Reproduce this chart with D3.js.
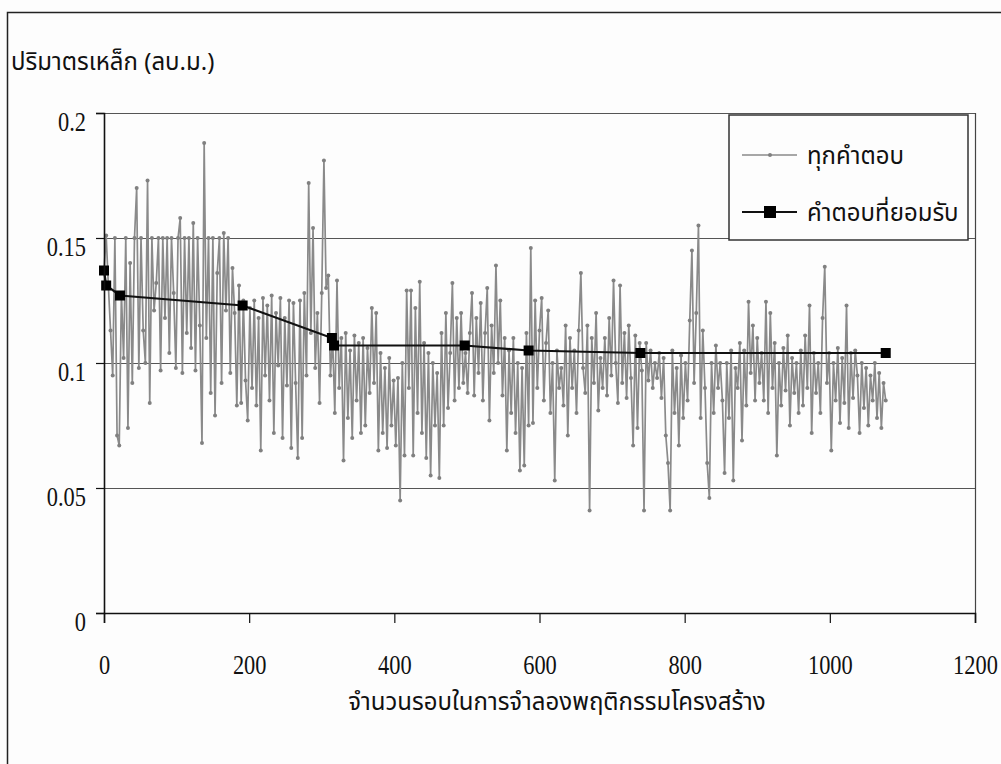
<!DOCTYPE html>
<html>
<head>
<meta charset="utf-8">
<script src="https://cdn.jsdelivr.net/npm/d3@7"></script>
<style>
  body { margin: 0; background: #fdfdfd; }
  svg { display: block; }
  .thai { font-family: "Noto Sans Thai", "Noto Serif Thai", "Loma", "Garuda", "Norasi", sans-serif; }
  .num { font-family: "Liberation Serif", "DejaVu Serif", serif; }
</style>
</head>
<body>
<div id="chart"></div>
<script>
// all solutions (ทุกคำตอบ), one sample every 3 iterations
var sampleStep = 3;
var allValues = [
  0.137, 0.151, 0.131, 0.113, 0.095, 0.150, 0.071, 0.067, 0.128, 0.102,
  0.150, 0.074, 0.140, 0.092, 0.150, 0.170, 0.098, 0.150, 0.113, 0.100,
  0.173, 0.084, 0.150, 0.121, 0.132, 0.150, 0.097, 0.150, 0.118, 0.150,
  0.104, 0.150, 0.128, 0.098, 0.150, 0.158, 0.096, 0.150, 0.112, 0.150,
  0.106, 0.156, 0.097, 0.150, 0.115, 0.068, 0.188, 0.110, 0.150, 0.088,
  0.150, 0.079, 0.136, 0.150, 0.092, 0.152, 0.121, 0.150, 0.096, 0.138,
  0.120, 0.083, 0.131, 0.084, 0.125, 0.093, 0.077, 0.122, 0.090, 0.125,
  0.083, 0.118, 0.065, 0.126, 0.095, 0.123, 0.085, 0.127, 0.072, 0.120,
  0.099, 0.126, 0.070, 0.118, 0.091, 0.125, 0.066, 0.124, 0.092, 0.062,
  0.125, 0.070, 0.128, 0.095, 0.172, 0.112, 0.154, 0.098, 0.120, 0.084,
  0.128, 0.181, 0.130, 0.135, 0.095, 0.110, 0.080, 0.133, 0.090, 0.110,
  0.061, 0.112, 0.078, 0.105, 0.070, 0.111, 0.085, 0.108, 0.072, 0.110,
  0.075, 0.106, 0.088, 0.122, 0.092, 0.120, 0.065, 0.104, 0.072, 0.098,
  0.066, 0.102, 0.075, 0.093, 0.067, 0.094, 0.045, 0.100, 0.063, 0.129,
  0.090, 0.129, 0.063, 0.122, 0.080, 0.1325, 0.072, 0.108, 0.062, 0.104,
  0.055, 0.100, 0.075, 0.096, 0.054, 0.112, 0.075, 0.120, 0.082, 0.104,
  0.132, 0.085, 0.118, 0.090, 0.120, 0.092, 0.104, 0.088, 0.112, 0.128,
  0.087, 0.118, 0.096, 0.124, 0.085, 0.112, 0.130, 0.077, 0.115, 0.096,
  0.139, 0.100, 0.125, 0.087, 0.110, 0.065, 0.105, 0.080, 0.110, 0.072,
  0.100, 0.057, 0.098, 0.059, 0.112, 0.075, 0.146, 0.076, 0.125, 0.090,
  0.113, 0.126, 0.085, 0.108, 0.121, 0.080, 0.100, 0.053, 0.105, 0.090,
  0.098, 0.083, 0.115, 0.071, 0.110, 0.090, 0.105, 0.080, 0.113, 0.136,
  0.098, 0.088, 0.115, 0.041, 0.110, 0.092, 0.120, 0.081, 0.102, 0.090,
  0.110, 0.087, 0.118, 0.095, 0.133, 0.100, 0.084, 0.131, 0.092, 0.112,
  0.086, 0.115, 0.094, 0.067, 0.111, 0.074, 0.108, 0.097, 0.041, 0.108,
  0.093, 0.105, 0.090, 0.100, 0.094, 0.104, 0.086, 0.102, 0.071, 0.060,
  0.041, 0.105, 0.080, 0.098, 0.067, 0.103, 0.078, 0.100, 0.085, 0.117,
  0.145, 0.092, 0.120, 0.155, 0.078, 0.113, 0.090, 0.060, 0.046, 0.100,
  0.080, 0.107, 0.090, 0.100, 0.085, 0.056, 0.100, 0.078, 0.105, 0.053,
  0.098, 0.090, 0.108, 0.069, 0.105, 0.083, 0.1245, 0.096, 0.115, 0.085,
  0.110, 0.092, 0.104, 0.085, 0.1245, 0.080, 0.120, 0.090, 0.108, 0.063,
  0.100, 0.083, 0.106, 0.089, 0.111, 0.075, 0.102, 0.088, 0.100, 0.080,
  0.105, 0.083, 0.111, 0.090, 0.123, 0.072, 0.104, 0.088, 0.100, 0.080,
  0.118, 0.1385, 0.092, 0.104, 0.065, 0.100, 0.085, 0.106, 0.076, 0.102,
  0.084, 0.123, 0.074, 0.104, 0.086, 0.105, 0.095, 0.072, 0.100, 0.082,
  0.098, 0.075, 0.095, 0.085, 0.100, 0.078, 0.096, 0.074, 0.092, 0.085
];

// accepted solutions (คำตอบที่ยอมรับ)
var acceptedIters = [0, 3, 22, 191, 314, 317, 497, 585, 739, 1077];
var acceptedValues = [0.137, 0.131, 0.127, 0.123, 0.110, 0.107, 0.107, 0.105, 0.104, 0.104];

var xTicks = [0, 200, 400, 600, 800, 1000, 1200];
var yTicks = [0, 0.05, 0.1, 0.15, 0.2];
var yTickLabels = ["0", "0.05", "0.1", "0.15", "0.2"];
var legendLabels = ["ทุกคำตอบ", "คำตอบที่ยอมรับ"];
var yTitle = "ปริมาตรเหล็ก (ลบ.ม.)";
var xTitle = "จำนวนรอบในการจำลองพฤติกรรมโครงสร้าง";

var W = 1001, H = 764;
var plot = {left: 104, right: 975, top: 113, bottom: 613};

var svg = d3.select("#chart").append("svg")
    .attr("width", W)
    .attr("height", H);

// outer chart border
svg.append("rect")
    .attr("x", 7.5).attr("y", 12.5)
    .attr("width", W + 20).attr("height", H + 20)
    .attr("fill", "#fdfdfd")
    .attr("stroke", "#222")
    .attr("stroke-width", 1.5);

var x = d3.scaleLinear().domain([0, 1200]).range([plot.left, plot.right]);
var y = d3.scaleLinear().domain([0, 0.2]).range([plot.bottom, plot.top]);

// gridlines
svg.append("g").selectAll("line")
    .data(yTicks.filter(function(d) { return d > 0; }))
    .enter().append("line")
    .attr("x1", plot.left).attr("x2", plot.right)
    .attr("y1", function(d) { return Math.round(y(d)) + 0.5; })
    .attr("y2", function(d) { return Math.round(y(d)) + 0.5; })
    .attr("stroke", "#555")
    .attr("stroke-width", 1.2);

// right border of plot area
svg.append("line")
    .attr("x1", plot.right + 0.5).attr("x2", plot.right + 0.5)
    .attr("y1", plot.top).attr("y2", plot.bottom)
    .attr("stroke", "#444").attr("stroke-width", 1.2);

// all solutions
var grayLine = d3.line()
    .x(function(d, i) { return x(i * sampleStep); })
    .y(function(d) { return y(d); });

svg.append("path")
    .datum(allValues)
    .attr("d", grayLine)
    .attr("fill", "none")
    .attr("stroke", "#8a8a8a")
    .attr("stroke-width", 1.7);

svg.append("g").selectAll("circle")
    .data(allValues)
    .enter().append("circle")
    .attr("cx", function(d, i) { return x(i * sampleStep); })
    .attr("cy", function(d) { return y(d); })
    .attr("r", 2)
    .attr("fill", "#808080");

// accepted solutions
var accepted = acceptedIters.map(function(it, i) { return [it, acceptedValues[i]]; });
svg.append("path")
    .datum(accepted)
    .attr("d", d3.line().x(function(d) { return x(d[0]); }).y(function(d) { return y(d[1]); }))
    .attr("fill", "none")
    .attr("stroke", "#111")
    .attr("stroke-width", 2.2);

svg.append("g").selectAll("rect")
    .data(accepted)
    .enter().append("rect")
    .attr("x", function(d) { return x(d[0]) - 5; })
    .attr("y", function(d) { return y(d[1]) - 5; })
    .attr("width", 10).attr("height", 10)
    .attr("fill", "#000");

// axes
var xAxis = svg.append("g")
    .attr("transform", "translate(0," + plot.bottom + ")")
    .call(d3.axisBottom(x).tickValues(xTicks).tickSize(10).tickFormat(d3.format("d")));
xAxis.select(".domain").attr("stroke", "#111").attr("stroke-width", 1.6);
xAxis.selectAll(".tick line").attr("stroke", "#111").attr("stroke-width", 1.2);
xAxis.selectAll(".tick text")
    .attr("class", "num")
    .attr("y", 0).attr("dy", 0)
    .attr("transform", "translate(0,61) scale(0.8,1)")
    .attr("font-size", 28)
    .attr("fill", "#111");

var yAxis = svg.append("g")
    .attr("transform", "translate(" + plot.left + ",0)")
    .call(d3.axisLeft(y).tickValues(yTicks).tickSize(8)
      .tickFormat(function(d, i) { return yTickLabels[i]; }));
yAxis.select(".domain").attr("stroke", "#111").attr("stroke-width", 1.6);
yAxis.selectAll(".tick line").attr("stroke", "#111").attr("stroke-width", 1.2);
yAxis.selectAll(".tick text")
    .attr("class", "num")
    .attr("x", 0).attr("dy", 0)
    .attr("transform", "translate(-18,17) scale(0.8,1)")
    .attr("font-size", 28)
    .attr("fill", "#111");

// titles
svg.append("text")
    .attr("class", "thai")
    .attr("x", 11).attr("y", 70)
    .attr("font-size", 24)
    .attr("fill", "#111")
    .text(yTitle);

svg.append("text")
    .attr("class", "thai")
    .attr("x", 557).attr("y", 710)
    .attr("text-anchor", "middle")
    .attr("font-size", 24)
    .attr("fill", "#111")
    .text(xTitle);

// legend
var legend = svg.append("g").attr("transform", "translate(729,115)");
legend.append("rect")
    .attr("width", 239).attr("height", 125)
    .attr("fill", "#fdfdfd")
    .attr("stroke", "#333")
    .attr("stroke-width", 1.5);

var items = legend.selectAll("g.item")
    .data(legendLabels)
    .enter().append("g")
    .attr("class", "item")
    .attr("transform", function(d, i) { return "translate(0," + (i === 0 ? 40 : 97) + ")"; });

items.append("line")
    .attr("x1", 13).attr("x2", 68)
    .attr("stroke", function(d, i) { return i === 0 ? "#8a8a8a" : "#111"; })
    .attr("stroke-width", function(d, i) { return i === 0 ? 1.4 : 2.2; });

items.filter(function(d, i) { return i === 0; }).append("circle")
    .attr("cx", 41).attr("r", 2).attr("fill", "#808080");
items.filter(function(d, i) { return i === 1; }).append("rect")
    .attr("x", 35).attr("y", -6).attr("width", 12).attr("height", 12).attr("fill", "#000");

items.append("text")
    .attr("class", "thai")
    .attr("x", 78).attr("y", 9)
    .attr("font-size", 24)
    .attr("fill", "#111")
    .text(function(d) { return d; });
</script>
</body>
</html>
